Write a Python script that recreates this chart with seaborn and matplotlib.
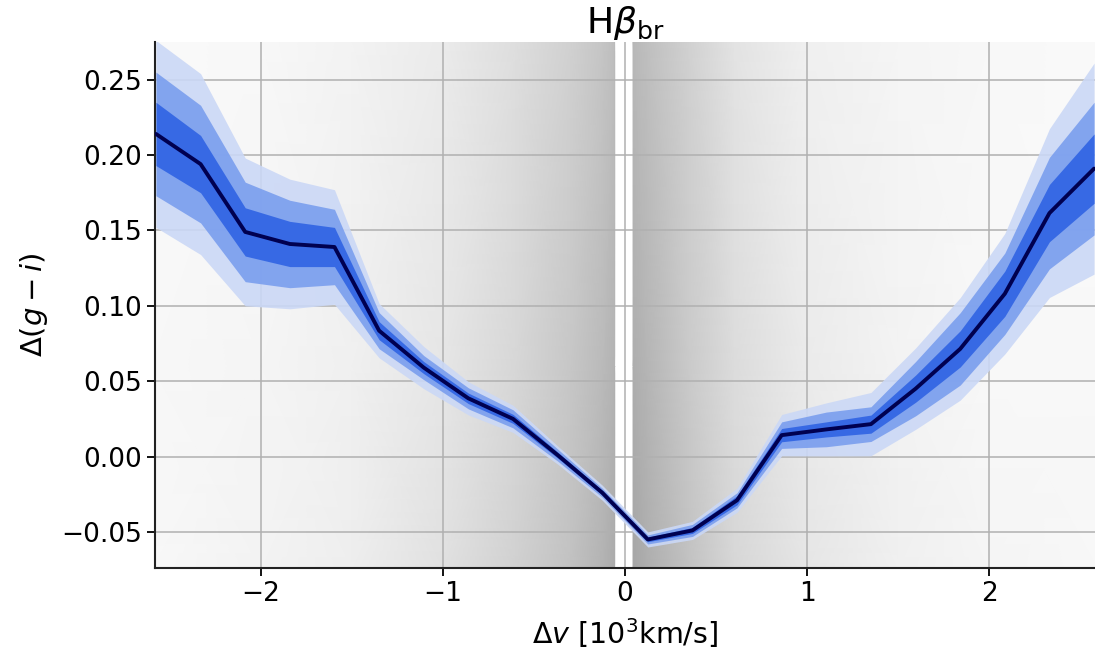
import numpy as np
import pandas as pd
import matplotlib
matplotlib.use("Agg")
import matplotlib.pyplot as plt
from matplotlib.colors import LinearSegmentedColormap
import seaborn as sns

# binned median of Delta(g-i) vs Delta v
dv = [-2.575, -2.33, -2.085, -1.84, -1.595, -1.35, -1.105, -0.86, -0.615, -0.37, -0.125,
      0.125, 0.37, 0.615, 0.86, 1.105, 1.35, 1.595, 1.84, 2.085, 2.33, 2.575]
dgi = [0.214, 0.194, 0.149, 0.141, 0.139, 0.0835, 0.059, 0.0386, 0.025, 0.001, -0.024,
       -0.055, -0.049, -0.029, 0.0142, 0.018, 0.0215, 0.045, 0.0714, 0.108, 0.1615, 0.191]

# half widths of the three confidence bands
err1 = [0.021, 0.019, 0.016, 0.015, 0.013, 0.006, 0.004, 0.0035, 0.003, 0.002, 0.0015,
        0.0015, 0.002, 0.003, 0.0044, 0.005, 0.006, 0.009, 0.012, 0.015, 0.019, 0.023]
err2 = [0.041, 0.039, 0.033, 0.029, 0.025, 0.012, 0.008, 0.007, 0.006, 0.004, 0.003,
        0.003, 0.004, 0.005, 0.0088, 0.0115, 0.0115, 0.018, 0.024, 0.027, 0.037, 0.044]
err3 = [0.062, 0.060, 0.049, 0.043, 0.038, 0.018, 0.014, 0.011, 0.009, 0.006, 0.005,
        0.005, 0.006, 0.008, 0.0137, 0.0176, 0.021, 0.027, 0.034, 0.040, 0.056, 0.070]

# density of the underlying individual objects (grey cloud), as shade 0..1
dens_x = [-2.6, -2.0, -1.5, -1.0, -0.6, -0.3, -0.12, -0.055, -0.05, 0.04, 0.045,
          0.12, 0.35, 0.6, 1.0, 1.5, 2.0, 2.6]
dens_y = [-0.075, 0.06, 0.275]
dens_bottom = [0.03, 0.05, 0.07, 0.12, 0.18, 0.24, 0.30, 0.33, 0, 0, 0.35, 0.32, 0.24, 0.16, 0.10, 0.06, 0.04, 0.03]
dens_mid = [0.03, 0.04, 0.06, 0.10, 0.16, 0.22, 0.27, 0.30, 0, 0, 0.32, 0.29, 0.21, 0.14, 0.08, 0.05, 0.03, 0.03]
dens_top = [0.02, 0.03, 0.05, 0.08, 0.13, 0.18, 0.23, 0.26, 0, 0, 0.28, 0.25, 0.18, 0.11, 0.06, 0.04, 0.03, 0.02]

df = pd.DataFrame({"dv": dv, "dgi": dgi, "e1": err1, "e2": err2, "e3": err3})

sns.set_style("ticks", {"axes.grid": True, "grid.color": "#b0b0b0",
                        "axes.edgecolor": "#222222", "text.color": "black",
                        "axes.labelcolor": "black", "xtick.color": "black",
                        "ytick.color": "black"})
plt.rcParams["font.family"] = ["DejaVu Sans"]
plt.rcParams["mathtext.fontset"] = "dejavusans"

fig = plt.figure(figsize=(10.95, 6.56), dpi=100)
ax = fig.add_axes([0.1416, 0.134, 0.8584, 0.802])

# grey cloud
grey = LinearSegmentedColormap.from_list("cloud", ["white", "black"])
X, Y = np.meshgrid(dens_x, dens_y)
C = np.array([dens_bottom, dens_mid, dens_top])
ax.pcolormesh(X, Y, C, shading="gouraud", cmap=grey, vmin=0, vmax=1, zorder=0.2, rasterized=True)

# bands
band_cols = ["#cbd8f6", "#7a9eee", "#2f63e3"]
for col, e in zip(band_cols, ["e3", "e2", "e1"]):
    ax.fill_between(df["dv"], df["dgi"] - df[e], df["dgi"] + df[e],
                    color=col, alpha=0.9, lw=0, zorder=2)

sns.lineplot(data=df, x="dv", y="dgi", color="#000050", lw=2.8, ax=ax, zorder=3)

ax.set_axisbelow(True)
ax.grid(True, color="#b0b0b0", lw=1.1)
ax.set_xlim(-2.58, 2.58)
ax.set_ylim(-0.074, 0.275)
ax.set_xticks([-2, -1, 0, 1, 2])
ax.set_yticks([-0.05, 0.0, 0.05, 0.10, 0.15, 0.20, 0.25])
ax.set_yticklabels(["\u22120.05", "0.00", "0.05", "0.10", "0.15", "0.20", "0.25"])
ax.set_xticklabels(["\u22122", "\u22121", "0", "1", "2"])
ax.tick_params(labelsize=19, length=6, width=1.3, direction="out", colors="black")
ax.set_xlabel(r"$\Delta v$ [$10^3$km/s]", fontsize=20.5, labelpad=6)
ax.set_ylabel(r"$\Delta(g-i)$", fontsize=21, labelpad=8)
ax.set_title(r"H$\beta_{\rm br}$", fontsize=26, pad=6)
sns.despine(ax=ax)
for s in ["left", "bottom"]:
    ax.spines[s].set_linewidth(1.5)

fig.savefig("out.png", dpi=100)
